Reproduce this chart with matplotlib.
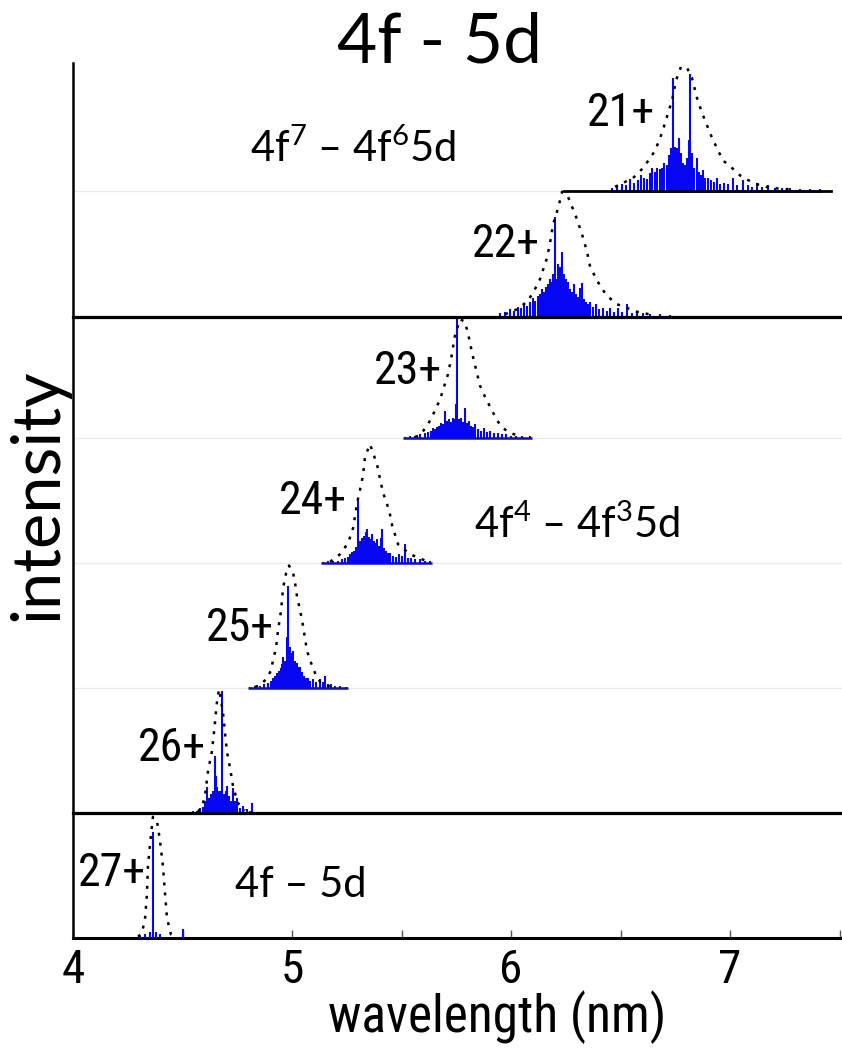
import os
import matplotlib
matplotlib.use("Agg")
import matplotlib.pyplot as plt
from matplotlib import font_manager as fm

# stick spectra (wavelength nm, relative intensity)
lines21_x = [6.461, 6.484, 6.507, 6.525, 6.543, 6.561, 6.580, 6.593, 6.607, 6.621, 6.635, 6.644, 6.658, 6.667,
             6.680, 6.689, 6.698, 6.712, 6.721, 6.731, 6.740, 6.749, 6.758, 6.767, 6.776, 6.785, 6.795, 6.804,
             6.813, 6.817, 6.826, 6.836, 6.849, 6.858, 6.868, 6.877, 6.886, 6.900, 6.913, 6.927, 6.941, 6.954,
             6.973, 6.991, 7.014, 7.032, 7.059, 7.082, 7.100, 7.123, 7.146, 7.174, 7.205, 7.237, 7.274, 7.320,
             7.365, 7.411]
lines21_h = [0.02, 0.04, 0.05, 0.04, 0.09, 0.06, 0.08, 0.12, 0.10, 0.09, 0.14, 0.18, 0.15, 0.18,
             0.17, 0.18, 0.22, 0.20, 0.28, 0.34, 0.90, 0.35, 0.34, 0.42, 0.30, 0.22, 0.20, 0.26,
             0.40, 0.93, 0.30, 0.18, 0.26, 0.15, 0.12, 0.16, 0.10, 0.10, 0.08, 0.07, 0.10, 0.05,
             0.06, 0.05, 0.10, 0.04, 0.08, 0.04, 0.03, 0.06, 0.03, 0.04, 0.02, 0.02, 0.02, 0.015,
             0.015, 0.01]

lines22_x = [5.950, 5.973, 5.995, 6.014, 6.032, 6.046, 6.059, 6.073, 6.087, 6.100, 6.110, 6.123, 6.132, 6.142,
             6.151, 6.160, 6.169, 6.178, 6.187, 6.192, 6.201, 6.210, 6.215, 6.224, 6.233, 6.242, 6.251, 6.260,
             6.269, 6.279, 6.288, 6.297, 6.306, 6.315, 6.324, 6.333, 6.342, 6.352, 6.361, 6.374, 6.388, 6.402,
             6.420, 6.438, 6.452, 6.470, 6.489, 6.507, 6.530, 6.553, 6.575, 6.603, 6.635, 6.680, 6.726, 6.795]
lines22_h = [0.03, 0.04, 0.06, 0.05, 0.08, 0.07, 0.10, 0.09, 0.12, 0.15, 0.13, 0.17, 0.18, 0.22,
             0.20, 0.24, 0.26, 0.30, 0.28, 0.34, 0.80, 0.30, 0.42, 0.40, 0.52, 0.34, 0.30, 0.28,
             0.22, 0.20, 0.26, 0.18, 0.16, 0.23, 0.27, 0.14, 0.12, 0.10, 0.12, 0.08, 0.10, 0.06,
             0.07, 0.05, 0.07, 0.04, 0.07, 0.04, 0.10, 0.03, 0.04, 0.03, 0.02, 0.02, 0.015, 0.01]

lines23_x = [5.516, 5.539, 5.562, 5.584, 5.607, 5.621, 5.634, 5.644, 5.653, 5.662, 5.671, 5.680, 5.689, 5.699,
             5.708, 5.717, 5.726, 5.735, 5.744, 5.749, 5.753, 5.763, 5.772, 5.781, 5.790, 5.799, 5.808, 5.817,
             5.826, 5.836, 5.849, 5.863, 5.877, 5.890, 5.904, 5.922, 5.941, 5.959, 5.977, 6.000, 6.023, 6.050,
             6.087]
lines23_h = [0.01, 0.02, 0.02, 0.03, 0.04, 0.05, 0.06, 0.08, 0.07, 0.09, 0.10, 0.12, 0.11, 0.22,
             0.14, 0.15, 0.13, 0.16, 0.15, 0.27, 0.97, 0.15, 0.16, 0.13, 0.24, 0.12, 0.14, 0.10,
             0.09, 0.11, 0.07, 0.06, 0.08, 0.05, 0.06, 0.04, 0.04, 0.03, 0.03, 0.02, 0.02, 0.015,
             0.015]

lines24_x = [5.142, 5.164, 5.187, 5.210, 5.228, 5.242, 5.256, 5.265, 5.274, 5.283, 5.292, 5.301, 5.311, 5.320,
             5.329, 5.338, 5.342, 5.352, 5.361, 5.365, 5.374, 5.384, 5.388, 5.397, 5.406, 5.411, 5.420, 5.429,
             5.438, 5.447, 5.461, 5.475, 5.489, 5.502, 5.516, 5.530, 5.543, 5.562, 5.584, 5.607, 5.630]
lines24_h = [0.01, 0.015, 0.02, 0.02, 0.03, 0.04, 0.05, 0.07, 0.09, 0.10, 0.13, 0.51, 0.18, 0.20,
             0.22, 0.25, 0.27, 0.21, 0.19, 0.23, 0.18, 0.16, 0.19, 0.14, 0.20, 0.27, 0.12, 0.10,
             0.08, 0.08, 0.06, 0.05, 0.07, 0.06, 0.15, 0.04, 0.04, 0.03, 0.03, 0.02, 0.015]

lines25_x = [4.808, 4.831, 4.854, 4.872, 4.890, 4.904, 4.913, 4.922, 4.932, 4.941, 4.950, 4.954, 4.959, 4.968,
             4.977, 4.982, 4.991, 5.000, 5.005, 5.014, 5.023, 5.032, 5.037, 5.046, 5.055, 5.064, 5.073, 5.082,
             5.096, 5.110, 5.128, 5.142, 5.151, 5.164, 5.178, 5.196, 5.219, 5.247]
lines25_h = [0.01, 0.015, 0.02, 0.03, 0.04, 0.06, 0.08, 0.10, 0.12, 0.14, 0.16, 0.19, 0.25, 0.22,
             0.41, 0.82, 0.33, 0.28, 0.30, 0.22, 0.20, 0.17, 0.17, 0.13, 0.10, 0.08, 0.08, 0.06,
             0.07, 0.05, 0.07, 0.05, 0.10, 0.03, 0.03, 0.02, 0.02, 0.01]

lines26_x = [4.502, 4.525, 4.548, 4.566, 4.580, 4.594, 4.603, 4.612, 4.621, 4.630, 4.639, 4.648, 4.653, 4.658,
             4.662, 4.671, 4.680, 4.689, 4.699, 4.703, 4.712, 4.721, 4.731, 4.740, 4.749, 4.763, 4.776, 4.795,
             4.808, 4.817, 4.836]
lines26_h = [0.01, 0.01, 0.015, 0.02, 0.04, 0.05, 0.10, 0.21, 0.12, 0.15, 0.18, 0.46, 0.30, 0.21,
             0.18, 0.18, 0.98, 0.15, 0.18, 0.22, 0.14, 0.10, 0.20, 0.10, 0.12, 0.04, 0.06, 0.03,
             0.02, 0.08, 0.01]

lines27_x = [4.306, 4.329, 4.352, 4.365, 4.379, 4.397, 4.502]
lines27_h = [0.02, 0.03, 0.05, 0.85, 0.05, 0.03, 0.07]

# dotted envelopes
env21_x = [6.475, 6.557, 6.603, 6.635, 6.658, 6.689, 6.717, 6.735, 6.753, 6.776, 6.804, 6.826, 6.849, 6.872,
           6.918, 6.945, 6.968, 7.009, 7.046, 7.105, 7.183, 7.274]
env21_y = [0.03, 0.10, 0.18, 0.26, 0.32, 0.46, 0.62, 0.72, 0.88, 0.99, 0.98, 0.90, 0.74, 0.62,
           0.42, 0.32, 0.24, 0.18, 0.12, 0.06, 0.02, 0.01]
env22_x = [5.973, 6.027, 6.073, 6.100, 6.132, 6.164, 6.178, 6.192, 6.215, 6.233, 6.260, 6.283, 6.301, 6.324,
           6.347, 6.361, 6.393, 6.416, 6.443, 6.484, 6.530, 6.575, 6.658]
env22_y = [0.02, 0.06, 0.12, 0.19, 0.30, 0.47, 0.59, 0.74, 0.87, 1.00, 0.96, 0.86, 0.78, 0.66,
           0.52, 0.40, 0.29, 0.22, 0.16, 0.10, 0.07, 0.04, 0.01]
env23_x = [5.562, 5.584, 5.621, 5.653, 5.676, 5.694, 5.712, 5.726, 5.744, 5.767, 5.790, 5.808, 5.822, 5.840,
           5.858, 5.881, 5.913, 5.936, 5.963, 5.995, 6.032]
env23_y = [0.01, 0.02, 0.11, 0.22, 0.31, 0.41, 0.51, 0.63, 0.82, 0.95, 0.93, 0.80, 0.68, 0.55,
           0.42, 0.33, 0.22, 0.14, 0.08, 0.04, 0.02]
env24_x = [5.174, 5.219, 5.256, 5.279, 5.288, 5.297, 5.311, 5.324, 5.333, 5.356, 5.370, 5.388, 5.402, 5.416,
           5.434, 5.447, 5.457, 5.484, 5.539, 5.607]
env24_y = [0.01, 0.07, 0.16, 0.28, 0.38, 0.48, 0.59, 0.70, 0.85, 0.95, 0.88, 0.79, 0.67, 0.56,
           0.47, 0.39, 0.30, 0.15, 0.07, 0.02]
env25_x = [4.831, 4.854, 4.886, 4.904, 4.913, 4.927, 4.936, 4.950, 4.959, 4.973, 4.986, 5.005, 5.014, 5.023,
           5.037, 5.050, 5.059, 5.068, 5.087, 5.105, 5.128, 5.174]
env25_y = [0.01, 0.02, 0.08, 0.14, 0.22, 0.32, 0.46, 0.62, 0.80, 0.92, 0.98, 0.92, 0.84, 0.73,
           0.62, 0.50, 0.40, 0.30, 0.20, 0.12, 0.05, 0.01]
env26_x = [4.571, 4.589, 4.603, 4.616, 4.635, 4.648, 4.658, 4.667, 4.676, 4.685, 4.694, 4.703, 4.717, 4.731,
           4.753, 4.785]
env26_y = [0.01, 0.05, 0.14, 0.33, 0.50, 0.72, 0.90, 0.99, 0.90, 0.80, 0.64, 0.49, 0.36, 0.21,
           0.08, 0.02]
env27_x = [4.297, 4.315, 4.329, 4.338, 4.342, 4.352, 4.365, 4.384, 4.397, 4.411, 4.420, 4.429, 4.447, 4.470]
env27_y = [0.01, 0.04, 0.16, 0.36, 0.57, 0.76, 0.97, 0.93, 0.78, 0.57, 0.36, 0.16, 0.03, 0.01]

charges = ["21+", "22+", "23+", "24+", "25+", "26+", "27+"]
label_x = [6.502, 5.977, 5.530, 5.096, 4.763, 4.452, 4.178]
label_y = [0.62, 0.58, 0.54, 0.50, 0.48, 0.52, 0.52]   # above own baseline
offsets = [5.98, 4.97, 4.0, 3.0, 2.0, 1.0, 0.0]

spectra = [(lines21_x, lines21_h, env21_x, env21_y), (lines22_x, lines22_h, env22_x, env22_y),
           (lines23_x, lines23_h, env23_x, env23_y), (lines24_x, lines24_h, env24_x, env24_y),
           (lines25_x, lines25_h, env25_x, env25_y), (lines26_x, lines26_h, env26_x, env26_y),
           (lines27_x, lines27_h, env27_x, env27_y)]

xticks = [4, 5, 6, 7]


def narrow_font():
    wanted = ["liberationsansnarrow-regular", "notosans-condensed.", "robotocondensed-regular",
              "dejavusanscondensed.", "notosans-semicondensed."]
    files = [f.fname for f in fm.fontManager.ttflist]
    for w in wanted:
        for fn in files:
            if os.path.basename(fn).lower().startswith(w):
                return fm.FontProperties(fname=fn)
    return fm.FontProperties(family="Lato")


plt.rcParams["font.family"] = ["Lato", "DejaVu Sans"]
plt.rcParams["mathtext.fontset"] = "custom"
plt.rcParams["mathtext.rm"] = "Lato"
plt.rcParams["mathtext.it"] = "Lato:italic"
plt.rcParams["mathtext.bf"] = "Lato:bold"

narrow = narrow_font()

fig = plt.figure(figsize=(8.42, 10.52), dpi=100)
ax = fig.add_axes([73 / 842, 114 / 1052, 769 / 842, 875 / 1052])
ax.set_xlim(4, 7.511)
ax.set_ylim(0, 7.0)

blue = "#0606f2"
navy = "#14148c"

# faint guide lines for every baseline
for off in offsets[2:5]:
    ax.axhline(off, color="#e8e8f0", lw=0.9, zorder=0)
ax.plot([4, 6.24], [offsets[0], offsets[0]], color="#e8e8f0", lw=0.9, zorder=0)

for (lx, lh, ex, ey), off in zip(spectra, offsets):
    ax.hlines(off, min(lx) - 0.01, max(lx) + 0.01, color=navy, lw=1.8, zorder=2)
    ax.vlines(lx, off, [off + h for h in lh], color=blue, lw=1.5, zorder=3)
    ax.plot(ex, [off + y for y in ey], color="black", lw=1.8, ls=(0, (1.2, 2.8)), zorder=4)

# solid black baselines
ax.plot([4, 7.511], [offsets[5], offsets[5]], color="black", lw=2.3, zorder=5, clip_on=False)
ax.plot([4, 7.511], [offsets[1], offsets[1]], color="black", lw=2.3, zorder=5, clip_on=False)
ax.plot([6.24, 7.46], [offsets[0], offsets[0]], color="black", lw=2.0, zorder=5)

for name, x, y, off in zip(charges, label_x, label_y, offsets):
    ax.text(x, off + y, name, ha="center", va="center", fontproperties=narrow, fontsize=33, zorder=6)

ax.text(4.808, 6.208, "4f$^7$ \u2013 4f$^6$5d", ha="left", va="baseline", fontsize=30)
ax.text(5.831, 3.20, "4f$^4$ \u2013 4f$^3$5d", ha="left", va="baseline", fontsize=30)
ax.text(4.740, 0.328, "4f \u2013 5d", ha="left", va="baseline", fontsize=30)

for side in ["top", "right"]:
    ax.spines[side].set_visible(False)
ax.spines["left"].set_linewidth(1.8)
ax.spines["bottom"].set_linewidth(2.2)

ax.set_yticks([])
ax.set_xticks(xticks)
ax.set_xticks([4.5, 5.5, 6.5, 7.5], minor=True)
ax.tick_params(axis="x", which="both", direction="in", length=6, width=1.0, color="#555555", pad=7)
ax.set_xticklabels([str(t) for t in xticks])
for lbl in ax.get_xticklabels():
    lbl.set_fontproperties(narrow)
    lbl.set_fontsize(34)

fig.text(440 / 842, 1 - 43 / 1052, "4f - 5d", ha="center", va="center", fontsize=50)
fig.text(38 / 842, 1 - 495 / 1052, "intensity", rotation=90, ha="center", va="center", fontsize=48)
fig.text(497 / 842, 1 - 1017 / 1052, "wavelength (nm)", ha="center", va="center",
         fontproperties=narrow, fontsize=37)

fig.savefig("out.png", dpi=100)
